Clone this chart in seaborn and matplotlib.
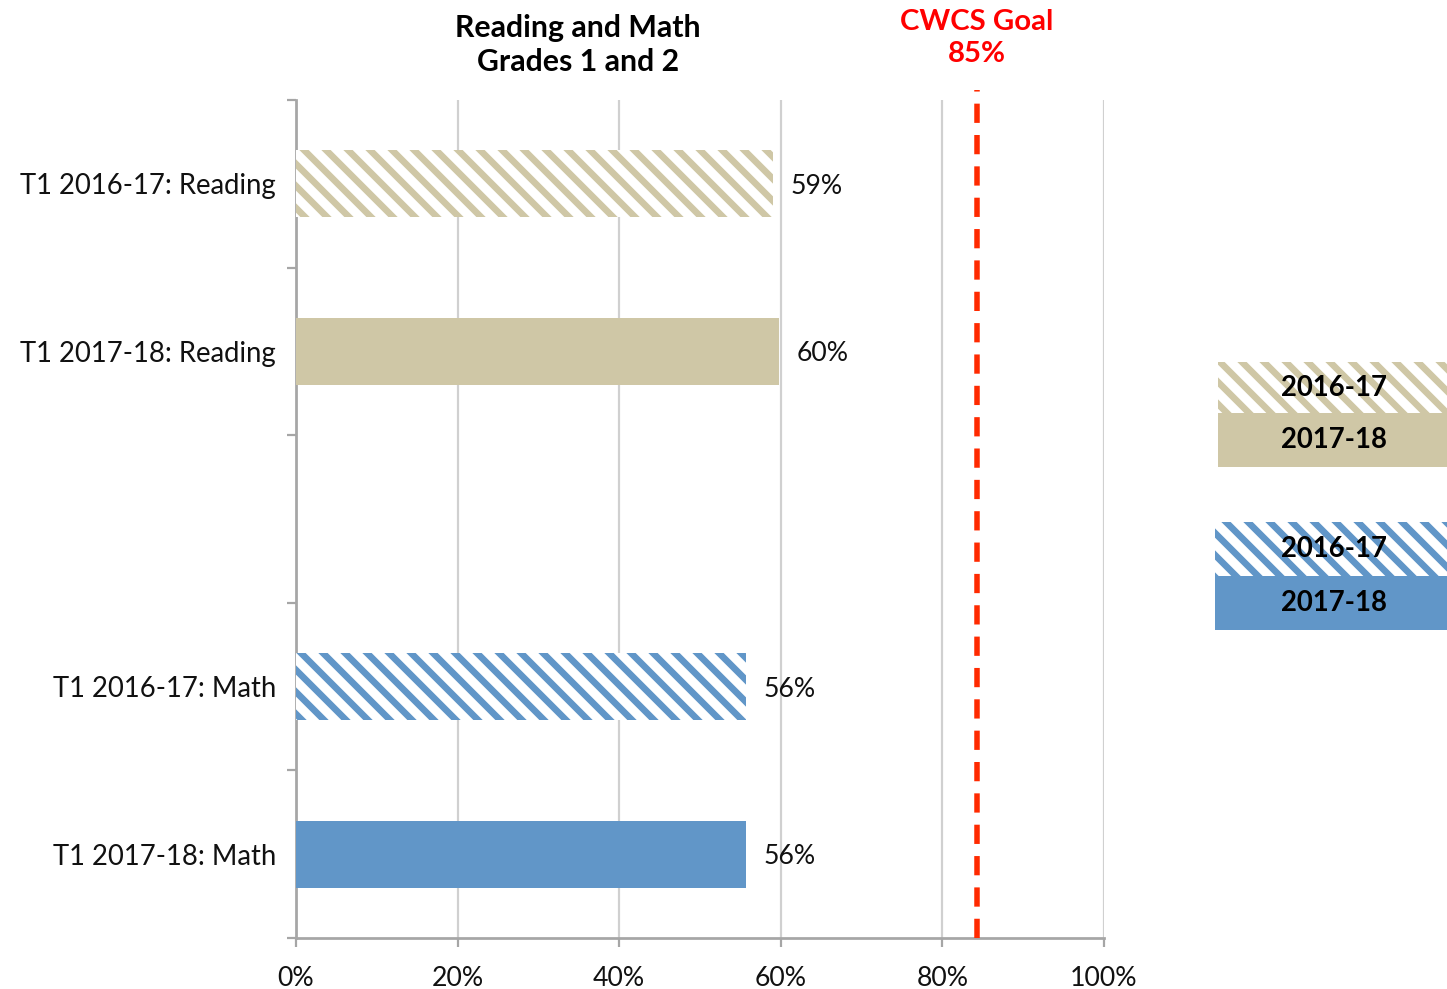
import numpy as np
import pandas as pd
import seaborn as sns
import matplotlib.pyplot as plt
from matplotlib.patches import Rectangle
from matplotlib.ticker import PercentFormatter

# dados
categorias = ["T1 2016-17: Reading", "T1 2017-18: Reading", "",
              "T1 2016-17: Math", "T1 2017-18: Math"]
rotulos_barras = ["T1 2016-17: Reading", "T1 2017-18: Reading",
                  "T1 2016-17: Math", "T1 2017-18: Math"]
valores = [0.59, 0.598, 0.557, 0.557]
textos_valores = ["59%", "60%", "56%", "56%"]
hachurado = [True, False, True, False]
cores = ["#CFC7A6", "#CFC7A6", "#6196C8", "#6196C8"]
meta = 0.85
xticks = [0, 0.2, 0.4, 0.6, 0.8, 1.0]

DPI = 132
sns.set_style("white")
plt.rcParams['font.family'] = ['Lato', 'DejaVu Sans']
plt.rcParams['hatch.linewidth'] = 3.6

fig = plt.figure(figsize=(1447 / DPI, 989 / DPI), dpi=DPI)
ax = fig.add_axes([296 / 1447, 1 - 938 / 989, 808 / 1447, 838 / 989])

df = pd.DataFrame({"rotulo": rotulos_barras, "valor": valores})
sns.barplot(data=df, y="rotulo", x="valor", order=categorias, orient="h",
            width=0.4, color="#CFC7A6", ax=ax, zorder=3)

# cores e hachuras por barra
for p in ax.patches:
    yc = p.get_y() + p.get_height() / 2
    j = rotulos_barras.index(categorias[int(round(yc))])
    if hachurado[j]:
        p.set_facecolor("white")
        p.set_edgecolor(cores[j])
        p.set_hatch("\\\\")
        p.set_linewidth(0)
    else:
        p.set_facecolor(cores[j])
        p.set_edgecolor(cores[j])
        p.set_linewidth(0)
    ax.text(p.get_width() + 0.022, yc, textos_valores[j], va="center_baseline",
            ha="left", fontsize=14.5, color="#111111")

ax.set_xlim(0, 1)
ax.set_ylim(len(categorias) - 0.5, -0.5)
ax.set_xticks(xticks)
ax.xaxis.set_major_formatter(PercentFormatter(1.0, decimals=0))
ax.set_xlabel("")
ax.set_ylabel("")
ax.grid(axis="x", color="#D0D0D0", linewidth=1.2, zorder=0)
ax.set_axisbelow(True)

ax.set_yticks(range(len(categorias)))
ax.set_yticklabels(categorias)
ax.set_yticks(np.arange(-0.5, len(categorias)), minor=True)
ax.tick_params(axis="y", which="major", length=0, pad=11, labelsize=15,
               labelcolor="#111111")
ax.tick_params(axis="y", which="minor", length=5, width=1.2, color="#A6A6A6",
               left=True)
ax.tick_params(axis="x", length=5, width=1.2, color="#A6A6A6", bottom=True,
               labelsize=14.5, labelcolor="#111111", pad=10)

for s in ["top", "right"]:
    ax.spines[s].set_visible(False)
for s in ["left", "bottom"]:
    ax.spines[s].set_color("#A6A6A6")
    ax.spines[s].set_linewidth(1.5)

# linha da meta
ax.axvline(meta - 0.007, ymax=1.012, color="#FF2A00",
           linestyle=(0, (3.5, 2.2)), linewidth=3, zorder=4, clip_on=False)
xl = ax.transData.transform((meta - 0.007, 0))[0] / fig.bbox.width
fig.text(xl, 1 - 38 / 989, "CWCS Goal\n85%", ha="center", va="center",
         color="#FF0000", fontsize=16, fontweight="bold", linespacing=1.25)

# titulo
fig.text(578 / 1447, 1 - 45 / 989, "Reading and Math\nGrades 1 and 2",
         ha="center", va="center", fontsize=16.5, fontweight="bold",
         linespacing=1.3, color="black")

# legenda manual
legenda = [
    (1218, 362, 413, "#CFC7A6", True, "2016-17"),
    (1218, 413, 467, "#CFC7A6", False, "2017-18"),
    (1215, 522, 576, "#6196C8", True, "2016-17"),
    (1215, 576, 630, "#6196C8", False, "2017-18"),
]
for x0, y0, y1, cor, hach, txt in legenda:
    if hach:
        r = Rectangle((x0 / 1447, 1 - y1 / 989), (1447 - x0) / 1447,
                      (y1 - y0) / 989, transform=fig.transFigure,
                      facecolor="white", edgecolor=cor, hatch="\\\\",
                      linewidth=0)
    else:
        r = Rectangle((x0 / 1447, 1 - y1 / 989), (1447 - x0) / 1447,
                      (y1 - y0) / 989, transform=fig.transFigure,
                      facecolor=cor, edgecolor=cor, linewidth=0)
    fig.patches.append(r)
    fig.text(1334 / 1447, 1 - (y0 + y1) / 2 / 989, txt, ha="center",
             va="center", fontsize=15, fontweight="bold", color="black")

fig.savefig("out.png", dpi=DPI)
